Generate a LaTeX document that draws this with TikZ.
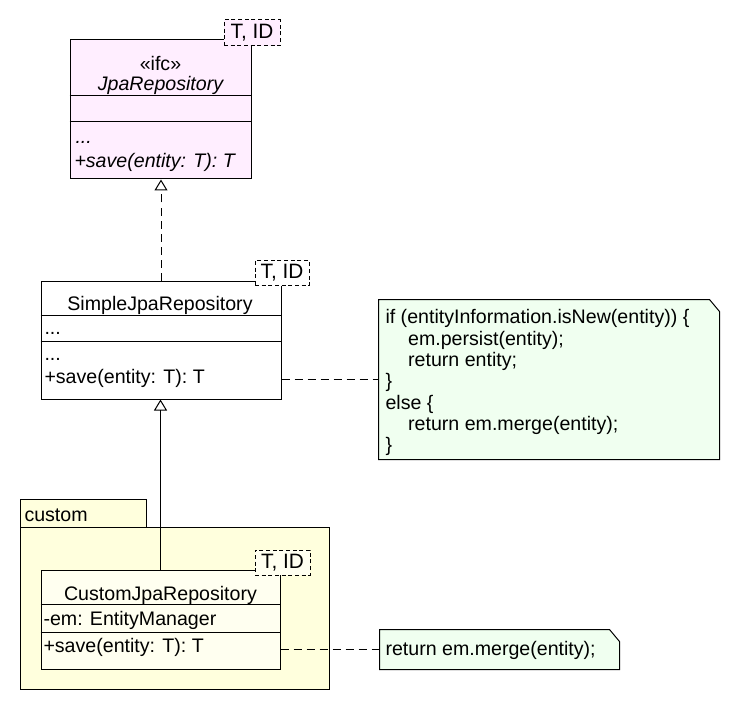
\documentclass[tikz,border=0pt]{standalone}
\usepackage{fontspec}
\setmainfont{Liberation Sans}
\usetikzlibrary{arrows.meta}
\definecolor{ifcfill}{RGB}{255,238,255}
\definecolor{notefill}{RGB}{240,255,240}
\definecolor{pkgfill}{RGB}{255,255,221}
\definecolor{customfill}{RGB}{255,255,240}
\tikzset{every picture/.style={line width=0.75pt}}
\tikzset{
	uml text/.style={font=\fontsize{14.7}{16}\selectfont, inner sep=0pt},
	uml italic/.style={font=\fontsize{14.7}{16}\selectfont\itshape, inner sep=0pt},
	class box/.style={draw, inner sep=0pt},
	tpl box/.style={draw, dash pattern=on 3pt off 2pt, inner sep=0pt, font=\fontsize{15.6}{16}\selectfont},
	note line/.style={dash pattern=on 6pt off 3.75pt},
	realize/.style={dash pattern=on 6pt off 3.75pt, -{Triangle[open, width=9.75pt, length=8.25pt]}},
	inherit/.style={-{Triangle[open, width=9.75pt, length=8.25pt]}}}

\begin{document}
\begin{tikzpicture}[x=0.75pt,y=0.75pt,yscale=-1,xscale=1]
	\useasboundingbox (0,0) rectangle (740,710);

	%Shape: Package custom
	\node[class box, fill=pkgfill, minimum width=94.5pt, minimum height=21pt] (pkgtab) at (83,513) {};
	\node[class box, fill=pkgfill, minimum width=231.75pt, minimum height=121.5pt] (pkgbody) at (174.5,608) {};
	% Text Node
	\node[uml text, anchor=base west] (pkglabel) at (24,521) {custom};

	%Shape: Class JpaRepository
	\node[class box, fill=ifcfill, minimum width=135.75pt, minimum height=104.25pt] (jpa) at (160.5,109.5) {};
	%Straight Lines
	\draw (jpa.west |- 0,96) -- (jpa.east |- 0,96);
	\draw (jpa.west |- 0,122) -- (jpa.east |- 0,122);
	% Text Node
	\node[uml text, anchor=base] (jpastereo) at (160.5,71) {«ifc»};
	% Text Node
	\node[uml italic, anchor=base] (jpaname) at (160.5,91) {JpaRepository};
	% Text Node
	\node[uml italic, anchor=base west] (jpadots) at (75,144) {...};
	% Text Node
	\node[uml italic, anchor=base west] (jpasave) at (74,167) {+save(entity: T): T};
	%Shape: Template
	\node[tpl box, fill=ifcfill, minimum width=42pt, minimum height=19.5pt] (jpatpl) at (252,33) {T, ID};

	%Shape: Class SimpleJpaRepository
	\node[class box, fill=white, minimum width=180pt, minimum height=88.5pt] (simple) at (161,340) {};
	%Straight Lines
	\draw (simple.west |- 0,315) -- (simple.east |- 0,315);
	\draw (simple.west |- 0,341) -- (simple.east |- 0,341);
	% Text Node
	\node[uml text, anchor=base] (simplename) at (160,310) {SimpleJpaRepository};
	% Text Node
	\node[uml text, anchor=base west] (simpleattr) at (44,334) {...};
	% Text Node
	\node[uml text, anchor=base west] (simpledots) at (44,360) {...};
	% Text Node
	\node[uml text, anchor=base west] (simplesave) at (44,383) {+save(entity: T): T};
	%Shape: Template
	\node[tpl box, fill=white, minimum width=40.5pt, minimum height=18.75pt] (simpletpl) at (282,273) {T, ID};

	%Shape: Class CustomJpaRepository
	\node[class box, fill=customfill, minimum width=179.25pt, minimum height=74.25pt] (custom) at (160.5,619.5) {};
	%Straight Lines
	\draw (custom.west |- 0,604) -- (custom.east |- 0,604);
	\draw (custom.west |- 0,632) -- (custom.east |- 0,632);
	% Text Node
	\node[uml text, anchor=base] (customname) at (160.5,600) {CustomJpaRepository};
	% Text Node
	\node[uml text, anchor=base west] (customem) at (43,625) {-em: EntityManager};
	% Text Node
	\node[uml text, anchor=base west] (customsave) at (43,652) {+save(entity: T): T};
	%Shape: Template
	\node[tpl box, fill=customfill, minimum width=41.25pt, minimum height=18.75pt] (customtpl) at (282.5,562.5) {T, ID};

	%Shape: Note
	\node[inner sep=0pt, minimum width=255pt, minimum height=119.25pt] (note1) at (549,379.5) {};
	\path (note1.north east) ++(-10,0) coordinate (note1fold) ++(10,12) coordinate (note1corner);
	\draw[fill=notefill] (note1.north west) -- (note1fold) -- (note1corner) -- (note1.south east) -- (note1.south west) -- cycle;
	% Text Node
	\node[uml text, anchor=north west, align=left] (note1text) at (385,309) {if (entityInformation.isNew(entity)) \{\\
		\hspace*{17pt}em.persist(entity);\\
		\hspace*{17pt}return entity;\\
		\}\\
		else \{\\
		\hspace*{17pt}return em.merge(entity);\\
		\}};

	%Shape: Note
	\node[inner sep=0pt, minimum width=179.25pt, minimum height=29.25pt] (note2) at (499.5,649.5) {};
	\path (note2.north east) ++(-10,0) coordinate (note2fold) ++(10,12) coordinate (note2corner);
	\draw[fill=notefill] (note2.north west) -- (note2fold) -- (note2corner) -- (note2.south east) -- (note2.south west) -- cycle;
	% Text Node
	\node[uml text, anchor=base west] (note2text) at (385,655) {return em.merge(entity);};

	%Straight Lines
	\draw[realize] (simple.north) -- (simple.north |- jpa.south);
	\draw[inherit] (custom.north) -- (custom.north |- simple.south);
	\draw[note line] (note1.west -| simple.east) -- (note1.west);
	\draw[note line] (note2.west -| custom.east) -- (note2.west);

\end{tikzpicture}
\end{document}
